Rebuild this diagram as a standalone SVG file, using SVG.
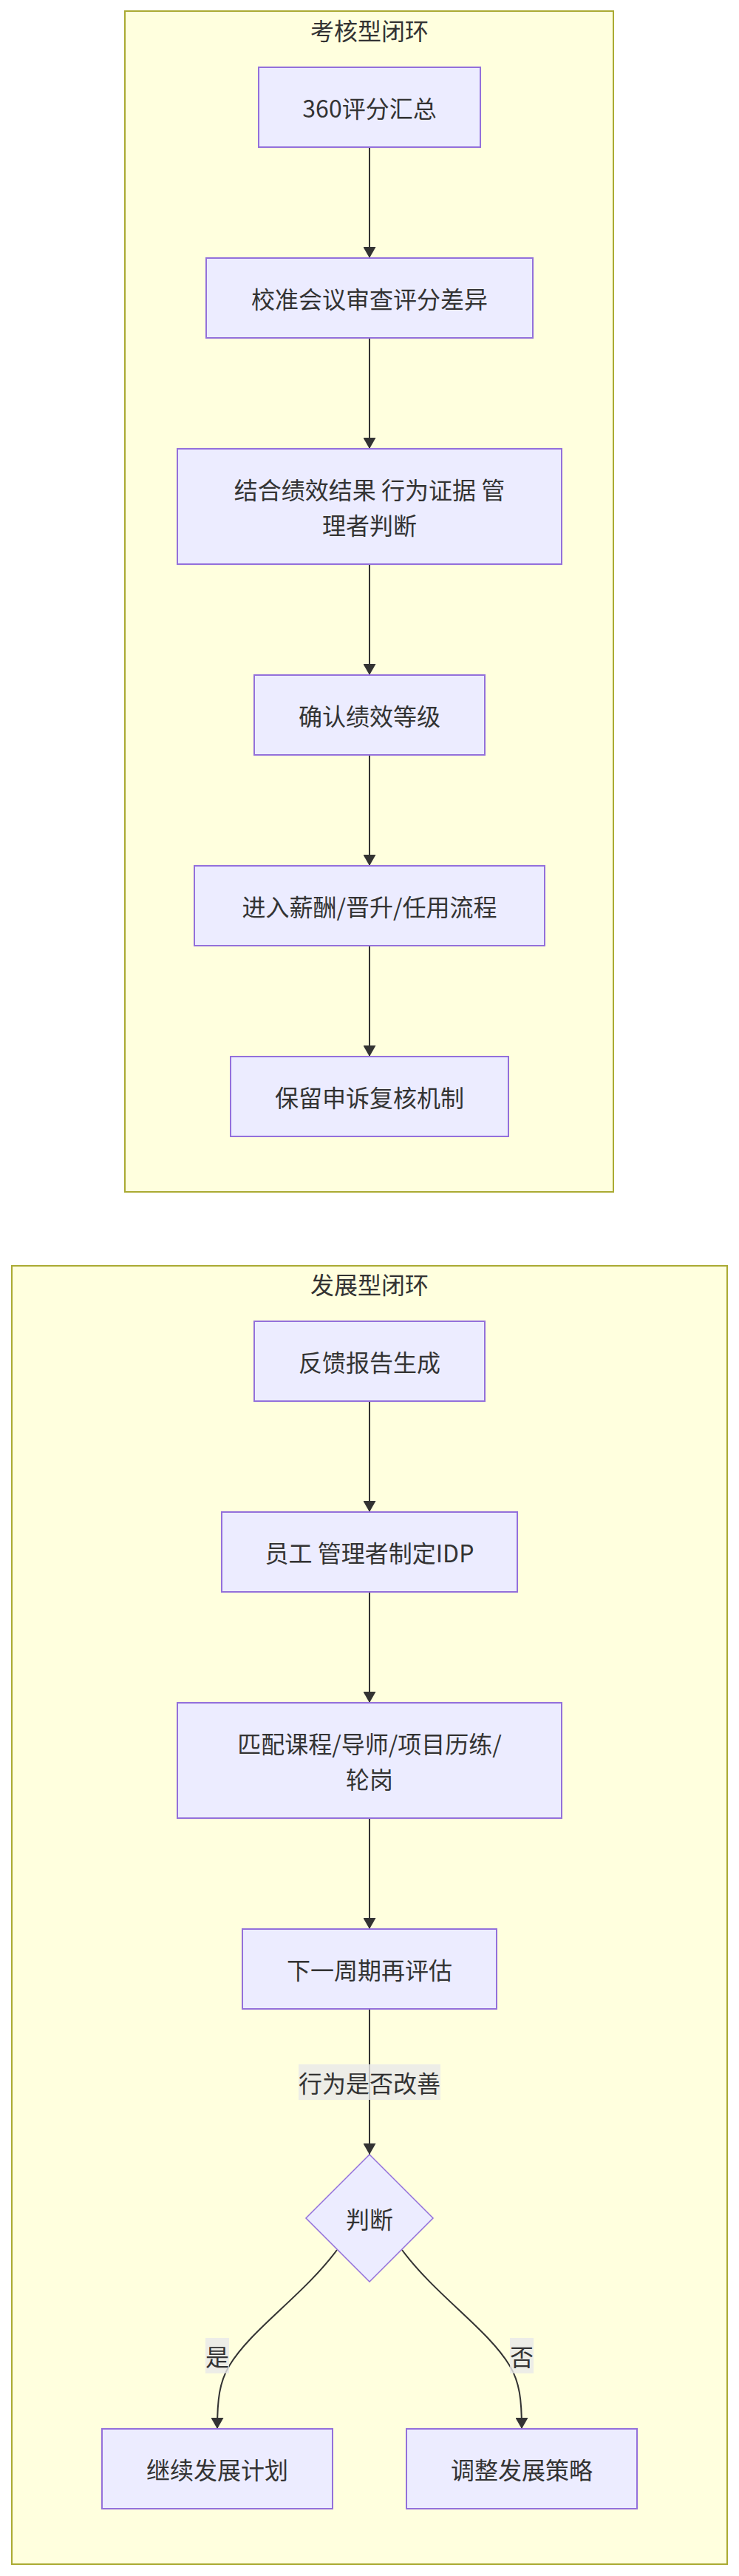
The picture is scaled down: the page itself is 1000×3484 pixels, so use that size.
<svg xmlns="http://www.w3.org/2000/svg" width="1000" height="3484" viewBox="0 0 1000 3484">
<defs>
<style>
.cluster rect{fill:#ffffde;stroke:#aaaa33;stroke-width:2}
.node rect,.node polygon{fill:#ECECFF;stroke:#9370DB;stroke-width:2}
.node polygon{stroke-width:1.5}
text{font-family:"Noto Sans CJK SC","Liberation Sans",sans-serif;font-size:32px;fill:#333333;text-anchor:middle;dominant-baseline:central}
.edge{fill:none;stroke:#333333;stroke-width:2}
.lbl rect{fill:rgba(232,232,232,0.8)}
</style>
<marker id="arrow" viewBox="0 0 15 17" refX="15" refY="8.5" markerWidth="15" markerHeight="17" markerUnits="userSpaceOnUse" orient="auto">
<path d="M0,0 L15,8.5 L0,17 z" fill="#333333"/>
</marker>
</defs>
<rect x="0" y="0" width="1000" height="3484" fill="#ffffff"/>

<g id="cluster-assess" class="cluster">
<rect x="169" y="15" width="661" height="1597"/>
<text x="500" y="40">考核型闭环</text>
</g>
<g id="cluster-develop" class="cluster">
<rect x="16" y="1712" width="968" height="1756"/>
<text x="500" y="1736">发展型闭环</text>
</g>

<g id="connectors">
<path class="edge" d="M500,199 L500,349" marker-end="url(#arrow)"/>
<path class="edge" d="M500,457 L500,607" marker-end="url(#arrow)"/>
<path class="edge" d="M500,763 L500,913" marker-end="url(#arrow)"/>
<path class="edge" d="M500,1021 L500,1171" marker-end="url(#arrow)"/>
<path class="edge" d="M500,1279 L500,1429" marker-end="url(#arrow)"/>
<path class="edge" d="M500,1895 L500,2045" marker-end="url(#arrow)"/>
<path class="edge" d="M500,2153 L500,2303" marker-end="url(#arrow)"/>
<path class="edge" d="M500,2459 L500,2609" marker-end="url(#arrow)"/>
<path class="edge" d="M500,2717 L500,2914" marker-end="url(#arrow)"/>
<path class="edge" d="M456,3043 C410,3105 340,3150 310,3200 C297,3222 294,3245 294,3285" marker-end="url(#arrow)"/>
<path class="edge" d="M544,3043 C590,3105 660,3150 690,3200 C703,3222 706,3245 706,3285" marker-end="url(#arrow)"/>
<g class="lbl">
<rect x="404" y="2792" width="192" height="48"/>
<text x="500" y="2816">行为是否改善</text>
<rect x="278" y="3162" width="32" height="48"/>
<text x="294" y="3186">是</text>
<rect x="690" y="3162" width="32" height="48"/>
<text x="706" y="3186">否</text>
</g>
</g>

<g id="n1" class="node"><rect x="350" y="91" width="300" height="108"/><text x="500" y="145">360评分汇总</text></g>
<g id="n2" class="node"><rect x="279" y="349" width="442" height="108"/><text x="500" y="403">校准会议审查评分差异</text></g>
<g id="n3" class="node"><rect x="240" y="607" width="520" height="156"/><text x="500" y="661">结合绩效结果 行为证据 管</text><text x="500" y="709">理者判断</text></g>
<g id="n4" class="node"><rect x="344" y="913" width="312" height="108"/><text x="500" y="967">确认绩效等级</text></g>
<g id="n5" class="node"><rect x="263" y="1171" width="474" height="108"/><text x="500" y="1225">进入薪酬/晋升/任用流程</text></g>
<g id="n6" class="node"><rect x="312" y="1429" width="376" height="108"/><text x="500" y="1483">保留申诉复核机制</text></g>

<g id="n7" class="node"><rect x="344" y="1787" width="312" height="108"/><text x="500" y="1841">反馈报告生成</text></g>
<g id="n8" class="node"><rect x="300" y="2045" width="400" height="108"/><text x="500" y="2099">员工 管理者制定IDP</text></g>
<g id="n9" class="node"><rect x="240" y="2303" width="520" height="156"/><text x="500" y="2357">匹配课程/导师/项目历练/</text><text x="500" y="2405">轮岗</text></g>
<g id="n10" class="node"><rect x="328" y="2609" width="344" height="108"/><text x="500" y="2663">下一周期再评估</text></g>
<g id="n11" class="node"><polygon points="500,2914 586,3000 500,3086 414,3000"/><text x="500" y="3000">判断</text></g>
<g id="n12" class="node"><rect x="138" y="3285" width="312" height="108"/><text x="294" y="3339">继续发展计划</text></g>
<g id="n13" class="node"><rect x="550" y="3285" width="312" height="108"/><text x="706" y="3339">调整发展策略</text></g>
</svg>
